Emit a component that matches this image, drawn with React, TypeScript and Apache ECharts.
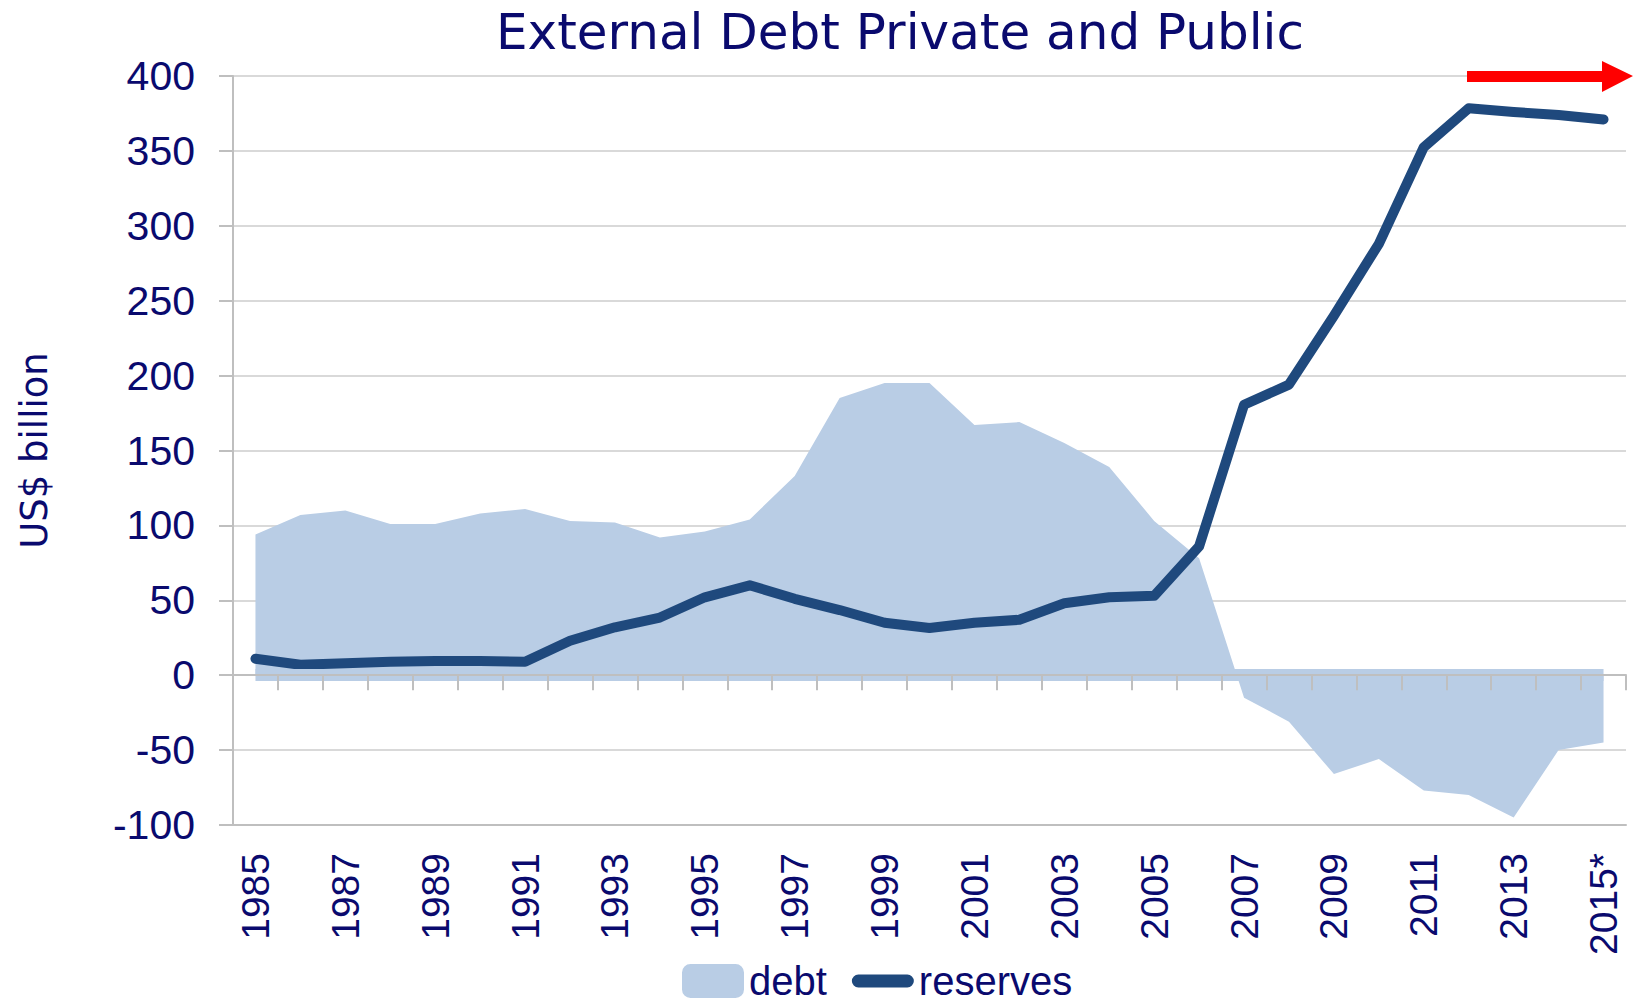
import React, { useEffect, useRef } from "react";
import * as echarts from "echarts";

const years = [
  "1985", "1986", "1987", "1988", "1989", "1990", "1991", "1992", "1993", "1994",
  "1995", "1996", "1997", "1998", "1999", "2000", "2001", "2002", "2003", "2004",
  "2005", "2006", "2007", "2008", "2009", "2010", "2011", "2012", "2013", "2014", "2015*",
];

const debt = [
  94, 107, 110, 101, 101, 108, 111, 103, 102, 92,
  96, 104, 133, 185, 195, 195, 167, 169, 155, 139,
  103, 78, -15, -31, -66, -56, -77, -80, -95, -50, -45,
];

const reserves = [
  11, 7, 8, 9, 9.5, 9.5, 9, 23, 32, 38.5,
  52, 60, 51, 43.5, 35, 31.5, 35, 37, 48, 52,
  53, 86, 180.5, 194, 240, 288, 352.5, 378.5, 376, 374, 371,
];

const NAVY = "#0a0a6e";
const DEBT_COLOR = "#b9cde5";
const RES_COLOR = "#1f497d";
const AXIS_GRAY = "#bfbfbf";
const GRID_GRAY = "#d9d9d9";

const RES_ICON =
  "path://M0,0M62,34M6.5,10.5L55.5,10.5A6.5,6.5,0,0,1,55.5,23.5L6.5,23.5A6.5,6.5,0,0,1,6.5,10.5Z";

export default function App() {
  const ref = useRef<HTMLDivElement>(null);

  useEffect(() => {
    if (!ref.current) return;
    const chart = echarts.init(ref.current, null, { renderer: "svg" });
    chart.setOption({
      animation: false,
      backgroundColor: "#ffffff",
      title: {
        text: "External Debt Private and Public",
        left: 491,
        top: 2,
        textStyle: {
          fontFamily: "DejaVu Sans",
          fontSize: 50,
          fontWeight: "normal",
          color: NAVY,
        },
      },
      legend: {
        left: 682,
        top: 961,
        padding: 0,
        itemWidth: 62,
        itemHeight: 34,
        itemGap: 25,
        textStyle: { fontFamily: "Liberation Sans", fontSize: 40, color: NAVY },
        data: [
          { name: "debt", icon: "roundRect", itemStyle: { color: DEBT_COLOR } },
          { name: "reserves", icon: RES_ICON, itemStyle: { color: RES_COLOR } },
        ],
      },
      grid: {
        left: 233,
        right: 7,
        top: 76,
        bottom: 177,
        containLabel: false,
        outerBoundsMode: "none",
      },
      xAxis: [
        {
          type: "category",
          data: years,
          boundaryGap: true,
          position: "bottom",
          axisLine: { show: true, onZero: false, lineStyle: { color: AXIS_GRAY, width: 2 } },
          axisTick: { show: false },
          axisLabel: {
            rotate: 90,
            interval: 1,
            margin: 28,
            fontFamily: "Liberation Sans",
            fontSize: 39,
            color: NAVY,
          },
          splitLine: { show: false },
        },
        {
          type: "category",
          data: years,
          boundaryGap: true,
          position: "bottom",
          z: 5,
          axisLine: { show: true, onZero: true, lineStyle: { color: AXIS_GRAY, width: 2 } },
          axisTick: { show: true, interval: 0, length: 15, lineStyle: { color: AXIS_GRAY, width: 2 } },
          axisLabel: { show: false },
          splitLine: { show: false },
        },
      ],
      yAxis: {
        type: "value",
        min: -100,
        max: 400,
        interval: 50,
        name: "US$ billion",
        nameLocation: "middle",
        nameGap: 180,
        nameTextStyle: { fontFamily: "DejaVu Sans", fontSize: 37, color: NAVY },
        axisLine: { show: true, lineStyle: { color: AXIS_GRAY, width: 2 } },
        axisTick: { show: true, length: 14, lineStyle: { color: AXIS_GRAY, width: 2 } },
        axisLabel: {
          margin: 38,
          fontFamily: "Liberation Sans",
          fontSize: 41,
          color: NAVY,
        },
        splitLine: { show: true, lineStyle: { color: GRID_GRAY, width: 2 } },
      },
      series: [
        {
          name: "debt",
          type: "line",
          data: debt,
          xAxisIndex: 0,
          symbol: "none",
          itemStyle: { color: DEBT_COLOR },
          lineStyle: { width: 0, color: DEBT_COLOR },
          areaStyle: { color: DEBT_COLOR, opacity: 1 },
          markLine: {
            silent: true,
            symbol: "none",
            label: { show: false },
            lineStyle: { color: DEBT_COLOR, width: 12, type: "solid" },
            data: [[{ coord: [years[0], 0] }, { coord: [years[years.length - 1], 0] }]],
          },
        },
        {
          name: "reserves",
          type: "line",
          data: reserves,
          xAxisIndex: 0,
          symbol: "none",
          itemStyle: { color: RES_COLOR },
          lineStyle: { width: 10, color: RES_COLOR, cap: "round", join: "round" },
          z: 3,
        },
      ],
      graphic: [
        {
          type: "polygon",
          shape: {
            points: [
              [1467, 71], [1602, 71], [1602, 61], [1633, 76],
              [1602, 92], [1602, 82], [1467, 82],
            ],
          },
          style: { fill: "#ff0000" },
          z: 10,
        },
      ],
    });
    return () => chart.dispose();
  }, []);

  return (
    <div
      ref={ref}
      style={{ position: "fixed", left: 0, top: 0, width: 1633, height: 1002 }}
    />
  );
}
